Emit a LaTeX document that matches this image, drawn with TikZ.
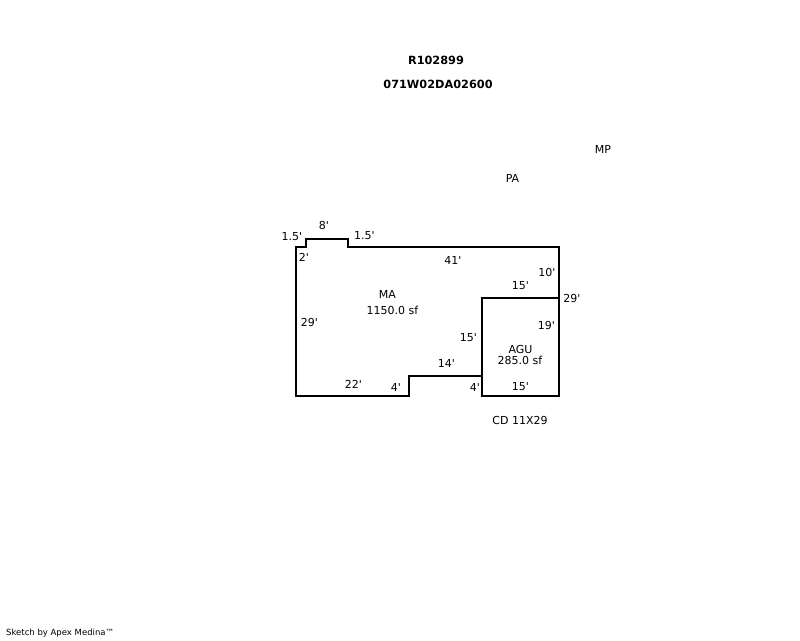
\documentclass[tikz,border=0pt]{standalone}
\usepackage{fontspec}
\newfontfamily\plainsans{DejaVu Sans}
\tikzset{
  wall/.style={draw=black,line width=2pt,line join=miter},
  lbl/.style={inner sep=0pt,text=black,font=\plainsans\fontsize{11}{13}\selectfont,align=center},
  ttl/.style={inner sep=0pt,text=black,font=\plainsans\fontsize{11.3}{13}\selectfont\bfseries},
  foot/.style={inner sep=0pt,text=black,font=\plainsans\fontsize{8.5}{10}\selectfont}
}
\begin{document}
\begin{tikzpicture}[x=1pt,y=-1pt]
\useasboundingbox (0,0) rectangle (800,640);
\draw[wall] (296,396) -- (296,247) -- (306,247) -- (306,239) -- (348,239) -- (348,247) -- (559,247) -- (559,396) -- (482,396) -- (482,376) -- (409,376) -- (409,396) -- cycle;
\draw[wall] (482,376) -- (482,298) -- (559,298);
\node[ttl] (t1) at (436,60) {R102899};
\node[ttl] (t2) at (438,84.5) {071W02DA02600};
\node[lbl] (mp) at (603,149) {MP};
\node[lbl] (pa) at (512.5,178) {PA};
\node[lbl] (a1) at (292,236.5) {1.5'};
\node[lbl] (a2) at (324,225) {8'};
\node[lbl] (a3) at (364.5,235.5) {1.5'};
\node[lbl] (a4) at (304,257) {2'};
\node[lbl] (a5) at (453,260.5) {41'};
\node[lbl] (a6) at (547,272.5) {10'};
\node[lbl] (a7) at (520.5,286) {15'};
\node[lbl] (a8) at (572,298.5) {29'};
\node[lbl] (ma) at (387.5,294) {MA};
\node[lbl] (ms) at (392.5,310) {1150.0 sf};
\node[lbl] (a9) at (309.5,322) {29'};
\node[lbl] (a10) at (546.5,325) {19'};
\node[lbl] (a11) at (468.5,338) {15'};
\node[lbl] (ag) at (520.5,349) {AGU};
\node[lbl] (as) at (520,360) {285.0 sf};
\node[lbl] (a12) at (446.5,363) {14'};
\node[lbl] (a13) at (353.5,384) {22'};
\node[lbl] (a14) at (396,387) {4'};
\node[lbl] (a15) at (475,387) {4'};
\node[lbl] (a16) at (520.5,387) {15'};
\node[lbl] (cd) at (520,420) {CD 11X29};
\node[foot,anchor=west] (sk) at (6,633) {Sketch by Apex Medina™};
\end{tikzpicture}
\end{document}
